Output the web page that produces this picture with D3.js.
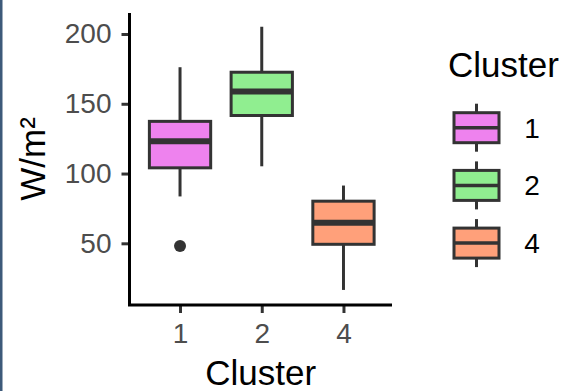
<!DOCTYPE html>
<html>
<head>
<meta charset="utf-8">
<script src="https://cdn.jsdelivr.net/npm/d3@7"></script>
<style>
  body { margin: 0; background: #fff; }
  svg { display: block; font-family: "Liberation Sans", Arial, sans-serif; }
</style>
</head>
<body>
<div id="chart"></div>
<script>
// --- Box plot of W/m² by cluster ---
const clusters = ["1", "2", "4"];
const colors = ["#EE82EE", "#90EE90", "#FFA07A"];
const whiskerLow = [83.6, 105.2, 16.6];
const q1 = [104.1, 141.6, 49.3];
const medians = [123.1, 158.8, 64.8];
const q3 = [137.4, 172.6, 80.2];
const whiskerHigh = [176.2, 205.2, 91.4];
const outliers = [{ cluster: "1", value: 48.1 }];
const yTicks = [50, 100, 150, 200];

const data = clusters.map((c, i) => ({
    cluster: c, color: colors[i],
    lo: whiskerLow[i], q1: q1[i], med: medians[i], q3: q3[i], hi: whiskerHigh[i]
}));

const width = 569, height = 391;
const plot = { left: 129.5, right: 392, top: 13, bottom: 305 };

const svg = d3.select("#chart")
    .append("svg")
    .attr("width", width)
    .attr("height", height);

// thin frame on the left edge
svg.append("rect")
    .attr("x", 0).attr("y", 0)
    .attr("width", 2.5).attr("height", height)
    .attr("fill", "#3d5a7a");

const x = d3.scalePoint().domain(clusters).range([131, 392.5]).padding(0.6);
const y = d3.scaleLinear().domain([5.8, 215.05]).range([plot.bottom, plot.top]);
const boxW = x.step() * 0.75;

const ink = "#333333";

// whiskers
svg.selectAll(".whisker")
    .data(data)
    .enter()
    .append("line")
    .attr("x1", d => x(d.cluster)).attr("x2", d => x(d.cluster))
    .attr("y1", d => y(d.lo)).attr("y2", d => y(d.hi))
    .attr("stroke", ink)
    .attr("stroke-width", 3);

// boxes
svg.selectAll(".box")
    .data(data)
    .enter()
    .append("rect")
    .attr("x", d => x(d.cluster) - boxW / 2)
    .attr("y", d => y(d.q3))
    .attr("width", boxW)
    .attr("height", d => y(d.q1) - y(d.q3))
    .attr("fill", d => d.color)
    .attr("stroke", ink)
    .attr("stroke-width", 3);

// medians
svg.selectAll(".median")
    .data(data)
    .enter()
    .append("line")
    .attr("x1", d => x(d.cluster) - boxW / 2).attr("x2", d => x(d.cluster) + boxW / 2)
    .attr("y1", d => y(d.med)).attr("y2", d => y(d.med))
    .attr("stroke", ink)
    .attr("stroke-width", 6);

// outliers
svg.selectAll(".outlier")
    .data(outliers)
    .enter()
    .append("circle")
    .attr("cx", d => x(d.cluster))
    .attr("cy", d => y(d.value))
    .attr("r", 6)
    .attr("fill", ink);

// axes
const yAxis = d3.axisLeft(y).tickValues(yTicks).tickSize(8).tickPadding(10);
const xAxis = d3.axisBottom(x).tickSize(8).tickPadding(10);

const gy = svg.append("g")
    .attr("transform", `translate(${plot.left},0)`)
    .call(yAxis);
const gx = svg.append("g")
    .attr("transform", `translate(0,${plot.bottom})`)
    .call(xAxis);

[gx, gy].forEach(g => {
    g.select(".domain").remove();
    g.selectAll(".tick line").attr("stroke", ink).attr("stroke-width", 3);
    g.selectAll(".tick text")
        .attr("fill", "#4d4d4d")
        .style("font-size", "28px");
});

svg.append("path")
    .attr("d", `M${plot.left},${plot.top}V${plot.bottom}H${plot.right}`)
    .attr("fill", "none")
    .attr("stroke", "#000")
    .attr("stroke-width", 3);

// axis titles
svg.append("text")
    .attr("x", (plot.left + plot.right) / 2)
    .attr("y", 385)
    .attr("text-anchor", "middle")
    .style("font-size", "35px")
    .text("Cluster");

svg.append("text")
    .attr("transform", `translate(45,${(plot.top + plot.bottom) / 2}) rotate(-90)`)
    .attr("text-anchor", "middle")
    .style("font-size", "35px")
    .text("W/m²");

// legend
const legend = svg.append("g").attr("transform", "translate(454,0)");
legend.append("text")
    .attr("x", -6).attr("y", 77)
    .style("font-size", "35px")
    .text("Cluster");

const keyW = 45, keyH = 30, keyStep = 57.7;
const keys = legend.selectAll(".key")
    .data(data)
    .enter()
    .append("g")
    .attr("transform", (d, i) => `translate(0,${112.7 + i * keyStep})`);

keys.append("line")
    .attr("x1", keyW / 2).attr("x2", keyW / 2)
    .attr("y1", -9).attr("y2", keyH + 9)
    .attr("stroke", ink).attr("stroke-width", 3);
keys.append("rect")
    .attr("width", keyW).attr("height", keyH)
    .attr("fill", d => d.color)
    .attr("stroke", ink).attr("stroke-width", 3);
keys.append("line")
    .attr("x1", 0).attr("x2", keyW)
    .attr("y1", keyH / 2).attr("y2", keyH / 2)
    .attr("stroke", ink).attr("stroke-width", 3.5);
keys.append("text")
    .attr("x", 78).attr("y", keyH / 2)
    .attr("dy", "0.36em")
    .attr("text-anchor", "middle")
    .style("font-size", "28px")
    .text(d => d.cluster);
</script>
</body>
</html>
